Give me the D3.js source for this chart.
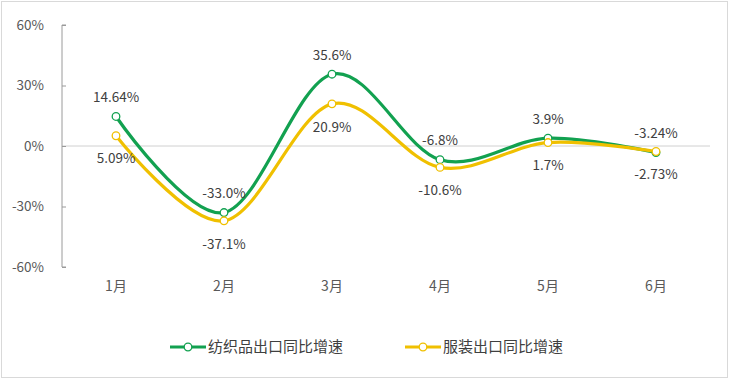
<!DOCTYPE html>
<html><head><meta charset="utf-8">
<script src="https://cdn.jsdelivr.net/npm/d3@7/dist/d3.min.js"></script>
<style>body{margin:0;background:#fff;}svg{display:block;font-family:"Noto Sans CJK SC","Microsoft YaHei",sans-serif;}</style>
</head><body>
<script>
const months = ["1月","2月","3月","4月","5月","6月"];
const textile = [14.64, -33.0, 35.6, -6.8, 3.9, -3.24];
const textileLabels = ["14.64%","-33.0%","35.6%","-6.8%","3.9%","-3.24%"];
const apparel = [5.09, -37.1, 20.9, -10.6, 1.7, -2.73];
const apparelLabels = ["5.09%","-37.1%","20.9%","-10.6%","1.7%","-2.73%"];
const yTicks = [60, 30, 0, -30, -60];
const seriesNames = ["纺织品出口同比增速","服装出口同比增速"];

const W = 730, H = 380;
const svg = d3.select("body").append("svg").attr("width", W).attr("height", H);
svg.append("rect").attr("x",1.5).attr("y",1.5).attr("width",W-4).attr("height",H-4)
  .attr("fill","#fff").attr("stroke","#d9d9d9");

const x = d3.scaleBand().domain(months).range([62, 710]);
const y = d3.scaleLinear().domain([-60, 60]).range([267, 25]);
const cx = m => x(m) + x.bandwidth()/2;

// zero line
svg.append("line").attr("x1",62).attr("x2",710).attr("y1",y(0)).attr("y2",y(0))
  .attr("stroke","#d0d0d0").attr("stroke-width",1);

// y axis
const yAxis = svg.append("g").attr("transform","translate(62,0)")
  .call(d3.axisRight(y).tickValues(yTicks).tickSize(4).tickFormat(""));
yAxis.select(".domain").attr("stroke","#9a9a9a").attr("d", `M4,${y(60)}H0V${y(-60)}H4`);
yAxis.selectAll(".tick line").attr("stroke","#9a9a9a");
svg.selectAll(".ylab").data(yTicks).enter().append("text")
  .attr("x",44).attr("y",d=>y(d)).attr("dy","0.35em").attr("text-anchor","end")
  .attr("font-size",13.5).attr("fill","#595959").text(d=>d+"%");

// x labels
svg.selectAll(".xlab").data(months).enter().append("text")
  .attr("x",d=>cx(d)).attr("y",291).attr("text-anchor","middle")
  .attr("font-size",14).attr("fill","#595959").text(d=>d);

const colors = ["#12a150","#f0c000"];
const line = d3.line().x((d,i)=>cx(months[i])).y(d=>y(d)).curve(d3.curveCardinal.tension(0));

[textile, apparel].forEach((vals, k) => {
  svg.append("path").datum(vals).attr("d", line).attr("fill","none")
    .attr("stroke", colors[k]).attr("stroke-width",3.2).attr("stroke-linecap","round");
});
[textile, apparel].forEach((vals, k) => {
  svg.selectAll(".pt"+k).data(vals).enter().append("circle")
    .attr("cx",(d,i)=>cx(months[i])).attr("cy",d=>y(d)).attr("r",3.8)
    .attr("fill","#fff").attr("stroke",colors[k]).attr("stroke-width",1.3);
});

svg.selectAll(".lt").data(textile).enter().append("text")
  .attr("x",(d,i)=>cx(months[i])).attr("y",d=>y(d)-19).attr("dy","0.35em")
  .attr("text-anchor","middle").attr("font-size",13.5).attr("fill","#404040")
  .text((d,i)=>textileLabels[i]);
svg.selectAll(".la").data(apparel).enter().append("text")
  .attr("x",(d,i)=>cx(months[i])).attr("y",d=>y(d)+23).attr("dy","0.35em")
  .attr("text-anchor","middle").attr("font-size",13.5).attr("fill","#404040")
  .text((d,i)=>apparelLabels[i]);

// legend
const legX = [170, 405];
seriesNames.forEach((n,k)=>{
  const g = svg.append("g").attr("transform",`translate(${legX[k]},347)`);
  g.append("line").attr("x1",0).attr("x2",36).attr("stroke",colors[k]).attr("stroke-width",3.2);
  g.append("circle").attr("cx",18).attr("r",3.8).attr("fill","#fff").attr("stroke",colors[k]).attr("stroke-width",1.3);
  g.append("text").attr("x",38).attr("dy","0.35em").attr("font-size",15).attr("fill","#404040").text(n);
});
</script>
</body></html>
